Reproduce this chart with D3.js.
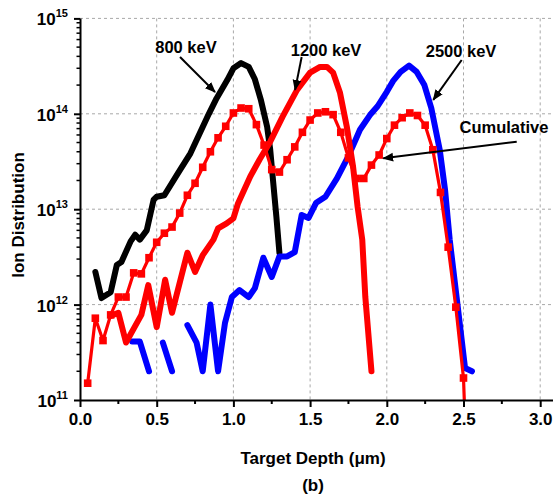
<!DOCTYPE html>
<html>
<head>
<meta charset="utf-8">
<script src="https://cdn.jsdelivr.net/npm/d3@7"></script>
<style>
  body { margin: 0; background: #fff; }
  svg { display: block; }
  text { font-family: "Liberation Sans", Arial, Helvetica, sans-serif; font-weight: bold; fill: #000; }
</style>
</head>
<body>
<svg id="chart" width="553" height="496"></svg>
<script>
// Depth profiles of implanted ions (depth in µm, ions per cm³ on a log axis)

const depth800 = [0.10, 0.14, 0.20, 0.24, 0.27, 0.33, 0.36, 0.39, 0.435, 0.48, 0.50, 0.55, 0.64, 0.72,
  0.84, 0.89, 0.96, 1.00, 1.05, 1.10, 1.14, 1.18, 1.22, 1.24, 1.26, 1.28, 1.30];
const ion800 = [2.2e12, 1.17e12, 1.35e12, 2.6e12, 2.8e12, 4.6e12, 5.4e12, 4.8e12, 6.0e12, 1.26e13, 1.35e13,
  1.4e13, 2.4e13, 3.85e13, 1.0e14, 1.45e14, 2.26e14, 3.0e14, 3.4e14, 3.1e14, 2.3e14, 1.38e14, 7.3e13,
  4.2e13, 1.87e13, 8.4e12, 3.5e12];

const depth1200 = [0.20, 0.25, 0.30, 0.40, 0.445, 0.50, 0.555, 0.60, 0.70, 0.75, 0.80, 0.87, 0.90, 0.956,
  1.00, 1.03, 1.11, 1.17, 1.24, 1.32, 1.415, 1.50, 1.565, 1.61, 1.65, 1.695, 1.74, 1.78, 1.81, 1.84, 1.86, 1.90];
const ion1200 = [7.6e11, 8.2e11, 4.0e11, 7.8e11, 1.6e12, 5.8e11, 1.82e12, 8.2e11, 3.5e12, 2.2e12, 3.3e12,
  4.8e12, 6.3e12, 7.1e12, 8.0e12, 1.15e13, 2.2e13, 3.3e13, 5.1e13, 9.3e13, 1.78e14, 2.7e14, 3.1e14,
  3.1e14, 2.7e14, 1.66e14, 7.2e13, 2.8e13, 1.05e13, 4.8e12, 1.2e12, 2.0e11];

// null marks depths where the 2500 keV profile has no ions (gaps in the line)
const depth2500 = [0.34, 0.39, 0.45, 0.50, 0.54, 0.60, 0.65, 0.70, 0.76, 0.80, 0.85, 0.90, 0.945, 0.99,
  1.04, 1.10, 1.14, 1.195, 1.25, 1.30, 1.35, 1.40, 1.445, 1.49, 1.54, 1.60, 1.675, 1.75, 1.825, 1.89,
  1.94, 2.00, 2.04, 2.09, 2.145, 2.195, 2.245, 2.29, 2.345, 2.38, 2.41, 2.455, 2.51, 2.555];
const ion2500 = [4.1e11, 4.1e11, 2.0e11, null, 4.0e11, 2.0e11, null, 6.1e11, 4.0e11, 2.0e11, 1.0e12,
  2.0e11, 6.4e11, 1.2e12, 1.42e12, 1.2e12, 1.49e12, 3.1e12, 1.95e12, 3.2e12, 3.2e12, 3.55e12, 8.7e12,
  8.1e12, 1.17e13, 1.35e13, 2.1e13, 3.6e13, 6.8e13, 9.7e13, 1.2e14, 1.7e14, 2.2e14, 2.75e14, 3.2e14,
  2.75e14, 2.0e14, 1.15e14, 4.2e13, 1.58e13, 4.8e12, 1.2e12, 2.16e11, 2.0e11];

const depthCum = [0.05, 0.10, 0.15, 0.20, 0.25, 0.30, 0.35, 0.40, 0.45, 0.50, 0.55, 0.60, 0.65, 0.70,
  0.75, 0.80, 0.85, 0.90, 0.95, 1.00, 1.05, 1.10, 1.15, 1.20, 1.25, 1.30, 1.35, 1.40, 1.45, 1.50, 1.55,
  1.60, 1.65, 1.70, 1.75, 1.80, 1.85, 1.90, 1.95, 2.00, 2.05, 2.10, 2.15, 2.20, 2.25, 2.30, 2.35, 2.40,
  2.45, 2.50, 2.55];
const ionCum = [1.5e11, 7.2e11, 4.2e11, 7.8e11, 1.2e12, 1.2e12, 2.15e12, 2.1e12, 3.1e12, 4.5e12, 5.6e12,
  6.5e12, 9.1e12, 1.4e13, 1.87e13, 2.75e13, 4.0e13, 5.6e13, 7.4e13, 1.02e14, 1.15e14, 1.13e14, 7.7e13,
  4.7e13, 2.6e13, 2.45e13, 3.3e13, 4.5e13, 6.4e13, 8.6e13, 1.02e14, 1.05e14, 9.8e13, 6.4e13, 3.45e13,
  2.1e13, 2.1e13, 2.9e13, 3.7e13, 5.5e13, 7.6e13, 9.1e13, 1.02e14, 9.6e13, 7.6e13, 4.2e13, 1.5e13,
  4.0e12, 9.4e11, 1.7e11, 1.0e9];

const xTicks = [0.0, 0.5, 1.0, 1.5, 2.0, 2.5, 3.0];
const xMinorTicks = [0.25, 0.75, 1.25, 1.75, 2.25, 2.75, 3.25];
const yExponents = [11, 12, 13, 14, 15];

// Annotation labels and their arrows, in data coordinates
const labelText = ["800 keV", "1200 keV", "2500 keV", "Cumulative"];
const labelDepth = [0.691, 1.604, 2.484, 2.764];
const labelIon = [4.33e14, 4.0e14, 3.94e14, 6.25e13];
const arrowFrom = [[0.652, 3.94e14], [1.445, 3.94e14], [2.488, 3.66e14], [2.847, 5.1e13]];
const arrowTo = [[0.880, 1.69e14], [1.402, 1.78e14], [2.303, 1.40e14], [1.977, 3.42e13]];

const svg = d3.select("#chart");
const plotLeft = 80, plotBottom = 400, plotTop = 18.4, pxPerUnit = 153.4;

const x = d3.scaleLinear().domain([0, 3.3]).range([plotLeft, plotLeft + pxPerUnit * 3.3]);
const y = d3.scaleLog().domain([1e11, 1e15]).range([plotBottom, plotTop]);

const defs = svg.append("defs");
defs.append("clipPath").attr("id", "plot-clip")
  .append("rect").attr("x", plotLeft).attr("y", 0).attr("width", 553 - plotLeft).attr("height", plotBottom);

const marker = defs.append("marker")
  .attr("id", "arrowhead").attr("viewBox", "0 0 10 10")
  .attr("refX", 9).attr("refY", 5)
  .attr("markerWidth", 5.5).attr("markerHeight", 5.5)
  .attr("markerUnits", "strokeWidth")
  .attr("orient", "auto");
marker.append("path").attr("d", "M0,1 L10,5 L0,9 Z").attr("fill", "#000");

// Dashed grid
const grid = svg.append("g").attr("stroke", "#a8a8a8").attr("stroke-width", 1).attr("stroke-dasharray", "3,3");
grid.selectAll("line.gx").data(xTicks.filter(d => d > 0)).join("line").attr("class", "gx")
  .attr("x1", d => x(d)).attr("x2", d => x(d)).attr("y1", plotTop).attr("y2", plotBottom);
grid.selectAll("line.gy").data(yExponents.filter(e => e > 11)).join("line").attr("class", "gy")
  .attr("x1", plotLeft).attr("x2", 553)
  .attr("y1", e => y(Math.pow(10, e))).attr("y2", e => y(Math.pow(10, e)));

// Curves
const plot = svg.append("g").attr("clip-path", "url(#plot-clip)");

function series(depths, ions) {
  return depths.map((d, i) => ({ d, v: ions[i] }));
}
const line = d3.line().defined(p => p.v != null).x(p => x(p.d)).y(p => y(p.v));

const thick = [
  { data: series(depth800, ion800), color: "#000000" },
  { data: series(depth2500, ion2500), color: "#0000ff" },
  { data: series(depth1200, ion1200), color: "#ff0000" }
];
plot.selectAll("path.profile").data(thick).join("path")
  .attr("class", "profile")
  .attr("d", s => line(s.data))
  .attr("fill", "none").attr("stroke", s => s.color)
  .attr("stroke-width", 6).attr("stroke-linejoin", "round").attr("stroke-linecap", "round");

const cum = series(depthCum, ionCum);
plot.append("path").attr("d", line(cum))
  .attr("fill", "none").attr("stroke", "#ff0000").attr("stroke-width", 3.2)
  .attr("stroke-linejoin", "round");
plot.selectAll("rect.pt").data(cum).join("rect")
  .attr("class", "pt")
  .attr("x", p => x(p.d) - 3.8).attr("y", p => y(p.v) - 3.8)
  .attr("width", 7.6).attr("height", 7.6).attr("fill", "#ff0000");

// Axes
const xAxis = d3.axisBottom(x).tickValues(xTicks).tickSize(7).tickFormat(d3.format(".1f")).tickPadding(4);
const gx = svg.append("g").attr("transform", `translate(0,${plotBottom})`).call(xAxis);
gx.select(".domain").attr("d", `M${plotLeft},0.5H553`).attr("stroke-width", 2);
gx.selectAll(".tick line").attr("stroke-width", 2);
gx.selectAll(".tick text").attr("font-size", 17).attr("font-family", null).attr("dy", "0.85em");
gx.selectAll("line.minor").data(xMinorTicks).join("line").attr("class", "minor")
  .attr("x1", d => x(d)).attr("x2", d => x(d)).attr("y1", 0).attr("y2", 4)
  .attr("stroke", "#000").attr("stroke-width", 2);

const yAxis = d3.axisLeft(y).tickValues(yExponents.map(e => Math.pow(10, e))).tickSize(6).tickFormat("");
const gy = svg.append("g").attr("transform", `translate(${plotLeft},0)`).call(yAxis);
gy.select(".domain").attr("d", `M0.5,${plotTop}V${plotBottom}`).attr("stroke-width", 2);
gy.selectAll(".tick line").attr("stroke-width", 2);
const yMinor = [];
for (let e = 11; e < 15; e++) for (let m = 2; m <= 9; m++) yMinor.push(m * Math.pow(10, e));
gy.selectAll("line.minor").data(yMinor).join("line").attr("class", "minor")
  .attr("x1", -3.5).attr("x2", 0).attr("y1", d => y(d)).attr("y2", d => y(d))
  .attr("stroke", "#000").attr("stroke-width", 1.5);

const yLabels = gy.selectAll("text.ylab").data(yExponents).join("text").attr("class", "ylab")
  .attr("text-anchor", "end").attr("x", -12).attr("y", e => y(Math.pow(10, e)) + 7);
yLabels.append("tspan").attr("font-size", 17).text("10");
yLabels.append("tspan").attr("font-size", 11).attr("dy", -8).text(e => e);

// Axis titles
svg.append("text").attr("x", 313).attr("y", 464).attr("text-anchor", "middle").attr("font-size", 17)
  .text("Target Depth (\u03bcm)");
svg.append("text").attr("x", 313).attr("y", 491).attr("text-anchor", "middle").attr("font-size", 17)
  .text("(b)");
svg.append("text").attr("transform", "translate(24,215) rotate(-90)").attr("text-anchor", "middle")
  .attr("font-size", 17).text("Ion Distribution");

// Annotations
const notes = svg.append("g");
notes.selectAll("line").data(arrowFrom).join("line")
  .attr("x1", p => x(p[0])).attr("y1", p => y(p[1]))
  .attr("x2", (p, i) => x(arrowTo[i][0])).attr("y2", (p, i) => y(arrowTo[i][1]))
  .attr("stroke", "#000").attr("stroke-width", 2).attr("marker-end", "url(#arrowhead)");
notes.selectAll("text").data(labelText).join("text")
  .attr("x", (t, i) => x(labelDepth[i])).attr("y", (t, i) => y(labelIon[i]))
  .attr("text-anchor", "middle").attr("font-size", 16.5).text(t => t);
</script>
</body>
</html>
